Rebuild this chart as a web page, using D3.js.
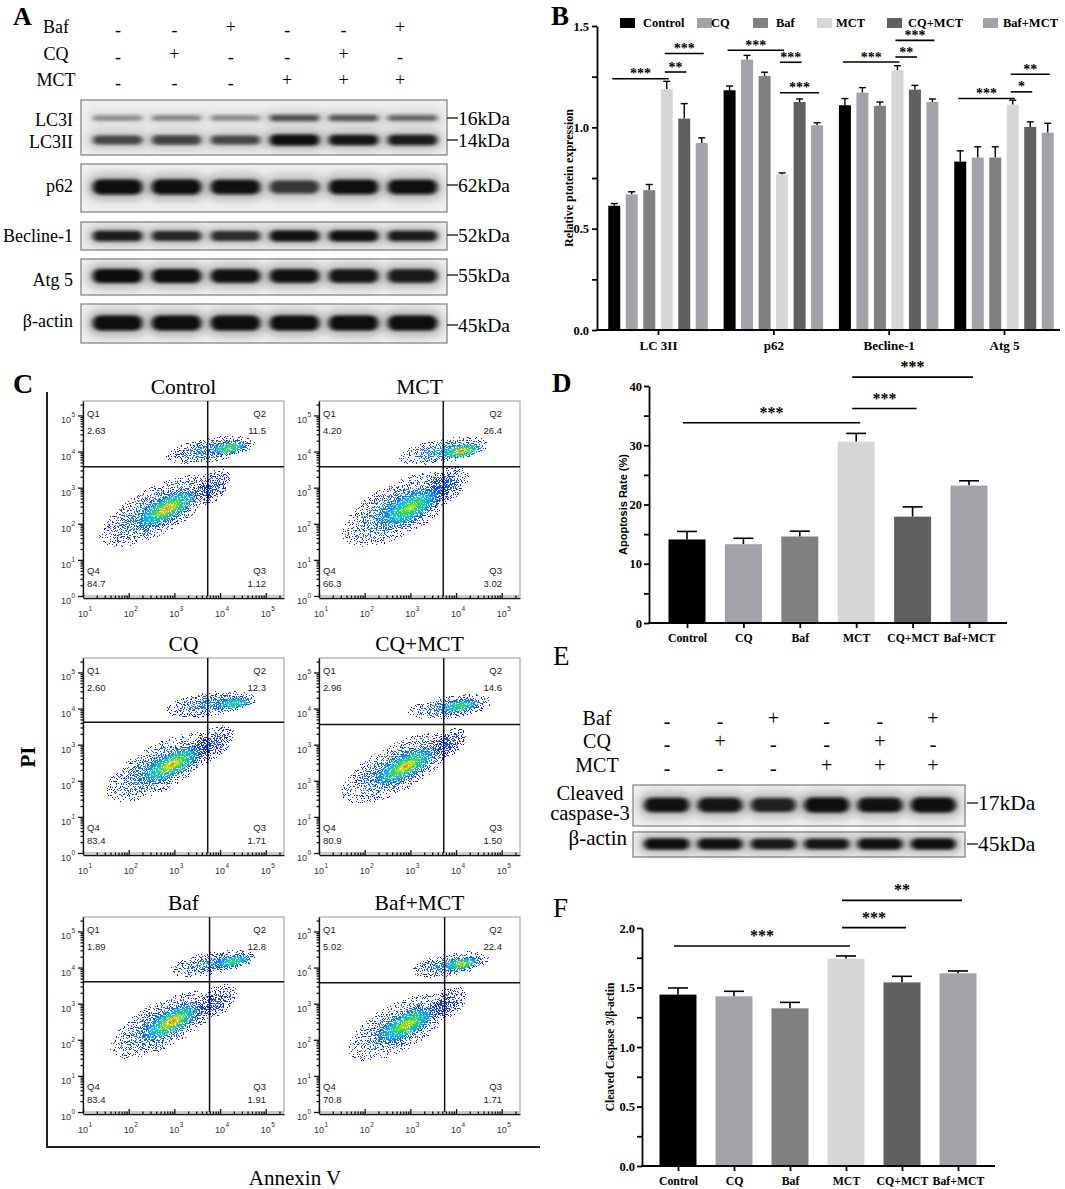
<!DOCTYPE html>
<html>
<head>
<meta charset="utf-8">
<script src="https://cdnjs.cloudflare.com/ajax/libs/d3/7.8.5/d3.min.js"></script>
<style>
  body { margin: 0; background: #fff; }
  svg { display: block; }
</style>
</head>
<body>
<div id="fig"></div>
<script>

// ---------- data ----------

var groups = ["Control", "CQ", "Baf", "MCT", "CQ+MCT", "Baf+MCT"];
var groupColors = ["#000000", "#a3a2a8", "#808080", "#d6d6d6", "#606060", "#a3a2a8"];
var bafRow = ["-", "-", "+", "-", "-", "+"];
var cqRow  = ["-", "+", "-", "-", "+", "-"];
var mctRow = ["-", "-", "-", "+", "+", "+"];

// A: western blot band strength per lane (0..1)
var lc3iBand   = [0.3, 0.33, 0.31, 0.6, 0.54, 0.48];
var lc3iiBand  = [0.64, 0.66, 0.64, 1.0, 0.92, 0.88];
var p62Band    = [1.0, 1.0, 0.95, 0.72, 0.96, 0.96];
var beclinBand = [0.88, 0.82, 0.78, 0.95, 0.95, 0.88];
var atg5Band   = [1.0, 0.97, 0.95, 0.95, 0.93, 0.9];
var actinBandA = [1.0, 0.98, 0.97, 0.97, 0.98, 0.98];
var kdaA = ["16kDa", "14kDa", "62kDa", "52kDa", "55kDa", "45kDa"];

// B: relative protein expression (mean, SEM)
var proteins = ["LC 3II", "p62", "Becline-1", "Atg 5"];
var lc3iiMean  = [0.613, 0.669, 0.690, 1.188, 1.043, 0.923];
var lc3iiSem   = [0.011, 0.013, 0.028, 0.039, 0.074, 0.025];
var p62Mean    = [1.183, 1.334, 1.253, 0.767, 1.125, 1.010];
var p62Sem     = [0.021, 0.021, 0.019, 0.008, 0.015, 0.013];
var beclinMean = [1.109, 1.171, 1.106, 1.281, 1.186, 1.125];
var beclinSem  = [0.033, 0.025, 0.019, 0.023, 0.021, 0.015];
var atg5Mean   = [0.831, 0.851, 0.851, 1.112, 1.002, 0.974];
var atg5Sem    = [0.053, 0.053, 0.053, 0.022, 0.025, 0.046];
// [protein, from group, to group, height, stars]
var sigB = [
  [0, 0, 3, 1.240, "***"], [0, 3, 4, 1.273, "**"], [0, 3, 5, 1.364, "***"],
  [1, 0, 3, 1.380, "***"], [1, 3, 4, 1.321, "***"], [1, 3, 5, 1.171, "***"],
  [2, 0, 3, 1.322, "***"], [2, 3, 4, 1.347, "**"], [2, 3, 5, 1.429, "***"],
  [3, 0, 3, 1.142, "***"], [3, 3, 4, 1.175, "*"], [3, 3, 5, 1.262, "**"]
];

// C: flow cytometry (Annexin V / PI), quadrant percentages
var flowTitles = ["Control", "MCT", "CQ", "CQ+MCT", "Baf", "Baf+MCT"];
var q1 = ["2.63", "4.20", "2.60", "2.96", "1.89", "5.02"];
var q2 = ["11.5", "26.4", "12.3", "14.6", "12.8", "22.4"];
var q3 = ["1.12", "3.02", "1.71", "1.50", "1.91", "1.71"];
var q4 = ["84.7", "66.3", "83.4", "80.9", "83.4", "70.8"];
var gateX = [3.73, 3.72, 3.73, 3.73, 3.77, 3.75];   // log10 Annexin V
var gateY = [3.58, 3.58, 3.62, 3.56, 3.61, 3.58];   // log10 PI
// populations: [log x, log y, half length, half width, tilt deg, peak density]
var mainHalo = [[2.6, 2.35, 1.4, 0.66, -28, 0.3], [2.75, 2.4, 1.4, 0.74, -28, 0.32], [2.7, 2.38, 1.35, 0.64, -28, 0.3],
                [2.7, 2.35, 1.35, 0.66, -28, 0.3], [2.75, 2.42, 1.3, 0.64, -28, 0.3], [2.75, 2.35, 1.25, 0.66, -28, 0.3]];
var mainCore = [[2.85, 2.42, 0.85, 0.38, -28, 1.0], [3.0, 2.45, 0.85, 0.42, -28, 0.82], [2.95, 2.45, 0.85, 0.38, -28, 0.95],
                [2.9, 2.4, 0.88, 0.38, -28, 0.95], [2.95, 2.5, 0.82, 0.38, -28, 1.0], [2.92, 2.42, 0.82, 0.38, -28, 0.9]];
var upHalo   = [[3.8, 4.05, 1.0, 0.34, -10, 0.25], [3.72, 4.02, 1.0, 0.34, -10, 0.35], [3.78, 4.12, 1.0, 0.34, -8, 0.25],
                [3.88, 4.05, 0.95, 0.32, -8, 0.28], [3.82, 4.12, 0.95, 0.32, -10, 0.25], [3.88, 4.08, 0.9, 0.32, -10, 0.3]];
var upCore   = [[4.2, 4.1, 0.5, 0.2, -10, 0.78], [4.12, 4.02, 0.55, 0.22, -10, 1.0], [4.3, 4.15, 0.5, 0.2, -8, 0.65],
                [4.1, 4.07, 0.55, 0.2, -8, 0.72], [4.28, 4.17, 0.5, 0.2, -10, 0.65], [4.13, 4.1, 0.5, 0.2, -10, 0.92]];
var bridge   = [[3.8, 3.0, 0.55, 0.4, -35, 0.1], [3.75, 3.05, 0.6, 0.45, -35, 0.15], [3.8, 3.0, 0.6, 0.4, -35, 0.1],
                [3.8, 3.0, 0.5, 0.35, -35, 0.1], [3.85, 3.0, 0.6, 0.4, -35, 0.1], [3.8, 3.0, 0.5, 0.38, -35, 0.1]];

// D: apoptosis rate (%)
var apopMean = [14.1, 13.3, 14.6, 30.6, 17.95, 23.2];
var apopSem  = [1.35, 1.0, 0.9, 1.4, 1.65, 0.8];
var sigD = [[0, 3, 33.8, "***"], [3, 4, 36.2, "***"], [3, 5, 41.5, "***"]];

// E: cleaved caspase-3 blot
var casBand    = [0.95, 0.92, 0.85, 1.0, 0.95, 0.97];
var actinBandE = [1.0, 0.95, 0.9, 0.92, 0.95, 0.97];
var kdaE = ["17kDa", "45kDa"];

// F: cleaved caspase 3 / beta-actin
var casMean = [1.44, 1.426, 1.325, 1.742, 1.543, 1.619];
var casSem  = [0.056, 0.042, 0.05, 0.023, 0.051, 0.02];
var sigF = [[0, 3, 1.849, "***"], [3, 4, 2.003, "***"], [3, 5, 2.232, "**"]];

// ---------- drawing ----------

var W = 1065, H = 1189;
var serif = "'Liberation Serif','Times New Roman',serif";
var sans = "'Liberation Sans',Arial,sans-serif";

var svg = d3.select("#fig").append("svg")
    .attr("width", W).attr("height", H)
    .attr("viewBox", [0, 0, W, H]);
var defs = svg.append("defs");

// soft edges for blot bands
defs.append("filter").attr("id", "bandBlur")
    .attr("x", "-30%").attr("y", "-100%").attr("width", "160%").attr("height", "300%")
    .append("feGaussianBlur").attr("stdDeviation", "2.6 1.7");
defs.append("filter").attr("id", "haloBlur")
    .attr("x", "-40%").attr("y", "-150%").attr("width", "180%").attr("height", "400%")
    .append("feGaussianBlur").attr("stdDeviation", "5 4");

// grainy dot look for the flow populations
var sp = defs.append("filter").attr("id", "speckle")
    .attr("x", "-5%").attr("y", "-5%").attr("width", "110%").attr("height", "110%")
    .attr("color-interpolation-filters", "sRGB");
sp.append("feTurbulence").attr("type", "fractalNoise").attr("baseFrequency", 0.85)
    .attr("numOctaves", 2).attr("seed", 7).attr("result", "noise");
sp.append("feColorMatrix").attr("in", "noise").attr("type", "matrix")
    .attr("values", "0 0 0 0 0  0 0 0 0 0  0 0 0 0 0  3.4 0 0 0 -1.2").attr("result", "na");
sp.append("feComposite").attr("in", "SourceAlpha").attr("in2", "na").attr("operator", "arithmetic")
    .attr("k1", 0).attr("k2", 1).attr("k3", -1).attr("k4", 0.49).attr("result", "diff");
sp.append("feComponentTransfer").attr("in", "diff").attr("result", "mask")
    .append("feFuncA").attr("type", "discrete").attr("tableValues", "0 1");
sp.append("feColorMatrix").attr("in", "SourceGraphic").attr("type", "matrix")
    .attr("values", "1 0 0 0 0  0 1 0 0 0  0 0 1 0 0  0 0 0 0 1").attr("result", "opaque");
sp.append("feComposite").attr("in", "opaque").attr("in2", "mask").attr("operator", "in");

var jet = d3.scaleLinear()
    .domain([0, 0.18, 0.4, 0.62, 0.82, 1])
    .range(["#1a1aff", "#0a7cff", "#00d8e8", "#28e028", "#f2ee00", "#ff2a00"]);

function txt(g, x, y, s, size, opts) {
  opts = opts || {};
  return g.append("text").attr("x", x).attr("y", y)
      .attr("font-family", opts.family || serif)
      .attr("font-size", size)
      .attr("font-weight", opts.weight || "normal")
      .attr("text-anchor", opts.anchor || "start")
      .attr("fill", opts.fill || "#000")
      .text(s);
}

// treatment +/- table above a blot
function treatments(g, xs, labelX, baselines, size) {
  var rows = [["Baf", bafRow], ["CQ", cqRow], ["MCT", mctRow]];
  rows.forEach(function(r, k) {
    txt(g, labelX, baselines[k], r[0], size, {anchor: "middle"});
    groups.forEach(function(gr, i) {
      txt(g, xs(gr), baselines[k] + (r[1][i] === "-" ? 2.5 : 0), r[1][i], size, {anchor: "middle"});
    });
  });
}

// one blot strip: bands = [{cy, h, vals}]
function blot(g, lanes, y0, y1, bands) {
  var r = lanes.range();
  g.append("rect").attr("x", r[0] - 7).attr("y", y0)
      .attr("width", r[1] - r[0] + 12).attr("height", y1 - y0)
      .attr("fill", "#efefef").attr("stroke", "#7d7d7d").attr("stroke-width", 1.2);
  bands.forEach(function(b) {
    var bw = lanes.bandwidth() * 0.84;
    g.selectAll(null).data(b.vals).join("rect")
        .attr("x", function(v, i) { return lanes(groups[i]) + lanes.bandwidth() / 2 - bw / 2 - 6; })
        .attr("y", function(v) { return b.cy - b.h * 0.9; })
        .attr("width", bw + 12).attr("height", b.h * 1.8)
        .attr("rx", b.h * 0.9)
        .attr("fill", "#333").attr("opacity", function(v) { return 0.3 * v; })
        .attr("filter", "url(#haloBlur)");
    g.selectAll(null).data(b.vals).join("rect")
        .attr("x", function(v, i) { return lanes(groups[i]) + lanes.bandwidth() / 2 - bw / 2; })
        .attr("y", function(v) { return b.cy - b.h * (0.55 + 0.45 * v) / 2; })
        .attr("width", bw)
        .attr("height", function(v) { return b.h * (0.55 + 0.45 * v); })
        .attr("rx", b.h / 2)
        .attr("fill", "#080808").attr("opacity", function(v) { return Math.min(1, 0.12 + 0.9 * v); })
        .attr("filter", "url(#bandBlur)");
  });
}

function kdaMark(g, x, yc, s, size) {
  g.append("line").attr("x1", x).attr("x2", x + 11).attr("y1", yc).attr("y2", yc)
      .attr("stroke", "#000").attr("stroke-width", 1.2);
  txt(g, x + 11, yc + size * 0.34, s, size);
}

function bracket(g, x1, x2, yv, label, size, lift) {
  g.append("line").attr("x1", x1).attr("x2", x2).attr("y1", yv).attr("y2", yv)
      .attr("stroke", "#000").attr("stroke-width", 1.6);
  txt(g, (x1 + x2) / 2, yv - lift, label, size, {anchor: "middle", weight: "bold"});
}

// ---------- panel A ----------
var gA = svg.append("g");
txt(gA, 13, 25, "A", 26, {weight: "bold"});
var treatA = d3.scalePoint().domain(groups).range([118, 400]);
treatments(gA, treatA, 56, [33, 60, 86], 18);
var lanesA = d3.scaleBand().domain(groups).range([88, 442]);
blot(gA, lanesA, 100, 155, [{cy: 118, h: 8, vals: lc3iBand}, {cy: 140, h: 11, vals: lc3iiBand}]);
blot(gA, lanesA, 164, 212, [{cy: 187, h: 15, vals: p62Band}]);
blot(gA, lanesA, 222, 250, [{cy: 236, h: 11, vals: beclinBand}]);
blot(gA, lanesA, 259, 295, [{cy: 276, h: 14, vals: atg5Band}]);
blot(gA, lanesA, 304, 343, [{cy: 323, h: 15, vals: actinBandA}]);
[["LC3I", 126], ["LC3II", 148], ["p62", 192], ["Becline-1", 242], ["Atg 5", 286], ["β-actin", 327]]
  .forEach(function(d) { txt(gA, 73, d[1], d[0], 18, {anchor: "end"}); });
[118, 140, 185, 235, 275, 325].forEach(function(yc, i) { kdaMark(gA, 447, yc, kdaA[i], 19.5); });

// ---------- panel B ----------
var gB = svg.append("g");
txt(gB, 551, 25, "B", 27, {weight: "bold"});
var yB = d3.scaleLinear().domain([0, 1.5]).range([330, 26]);
var xB = d3.scalePoint().domain(proteins).range([658, 1004]);
var offB = d3.scalePoint().domain(groups).range([-43.75, 43.75]);
var barWB = 12;
var meansB = [lc3iiMean, p62Mean, beclinMean, atg5Mean];
var semsB = [lc3iiSem, p62Sem, beclinSem, atg5Sem];

proteins.forEach(function(p, k) {
  var cells = groups.map(function(gr, i) { return {g: gr, i: i, m: meansB[k][i], s: semsB[k][i]}; });
  var gg = gB.append("g");
  gg.selectAll("line.err").data(cells).join("line").attr("class", "err")
      .attr("x1", function(d) { return xB(p) + offB(d.g); })
      .attr("x2", function(d) { return xB(p) + offB(d.g); })
      .attr("y1", function(d) { return yB(d.m); })
      .attr("y2", function(d) { return yB(d.m + d.s); })
      .attr("stroke", "#000").attr("stroke-width", 1.4);
  gg.selectAll("line.cap").data(cells).join("line").attr("class", "cap")
      .attr("x1", function(d) { return xB(p) + offB(d.g) - 3.5; })
      .attr("x2", function(d) { return xB(p) + offB(d.g) + 3.5; })
      .attr("y1", function(d) { return yB(d.m + d.s); })
      .attr("y2", function(d) { return yB(d.m + d.s); })
      .attr("stroke", "#000").attr("stroke-width", 1.4);
  gg.selectAll("rect").data(cells).join("rect")
      .attr("x", function(d) { return xB(p) + offB(d.g) - barWB / 2; })
      .attr("y", function(d) { return yB(d.m); })
      .attr("width", barWB)
      .attr("height", function(d) { return yB(0) - yB(d.m); })
      .attr("fill", function(d) { return groupColors[d.i]; });
});
sigB.forEach(function(s) {
  var p = proteins[s[0]];
  bracket(gB, xB(p) + offB(groups[s[1]]) - 2, xB(p) + offB(groups[s[2]]) + 2, yB(s[3]), s[4], 14, 0.5);
});

gB.append("g").attr("transform", "translate(597,0)")
    .call(d3.axisLeft(yB).tickValues([0, 0.5, 1, 1.5]).tickFormat(d3.format(".1f")).tickSize(5).tickSizeOuter(0));
gB.append("g").attr("transform", "translate(597,0)")
    .call(d3.axisLeft(yB).tickValues([0.25, 0.75, 1.25]).tickFormat("").tickSize(5).tickSizeOuter(0))
    .select(".domain").remove();
var axBx = gB.append("g").attr("transform", "translate(0,330)")
    .call(d3.axisBottom(xB).tickSize(5).tickPadding(6));
axBx.select(".domain").remove();
gB.append("line").attr("x1", 596).attr("x2", 1060).attr("y1", 330).attr("y2", 330)
    .attr("stroke", "#000").attr("stroke-width", 2);
gB.selectAll(".tick text").attr("font-family", serif).attr("font-weight", "bold").attr("font-size", 12.5).attr("fill", "#000");
axBx.selectAll(".tick text").attr("font-size", 13);
gB.selectAll(".domain, .tick line").attr("stroke", "#000").attr("stroke-width", 1.8);
txt(gB, 0, 0, "Relative ptotein expression", 12, {anchor: "middle", weight: "bold"})
    .attr("transform", "translate(573,178) rotate(-90)");

var legX = [620, 697, 753, 817, 887, 983], legTX = [643, 711, 776, 836, 908, 1003];
groups.forEach(function(gr, i) {
  gB.append("rect").attr("x", legX[i]).attr("y", 18).attr("width", 15).attr("height", 10).attr("fill", groupColors[i]);
  txt(gB, legTX[i], 27, gr, 12.5, {weight: "bold"});
});

// ---------- simple bar panels (D, F) ----------
function barPanel(cfg) {
  var g = svg.append("g");
  var y = d3.scaleLinear().domain([0, cfg.yMax]).range([cfg.yBot, cfg.yTop]);
  var x = d3.scalePoint().domain(groups).range(cfg.centers);
  var cells = groups.map(function(gr, i) { return {g: gr, i: i, m: cfg.means[i], s: cfg.sems[i]}; });
  g.selectAll("line.err").data(cells).join("line").attr("class", "err")
      .attr("x1", function(d) { return x(d.g); }).attr("x2", function(d) { return x(d.g); })
      .attr("y1", function(d) { return y(d.m); }).attr("y2", function(d) { return y(d.m + d.s); })
      .attr("stroke", "#000").attr("stroke-width", 1.6);
  g.selectAll("line.cap").data(cells).join("line").attr("class", "cap")
      .attr("x1", function(d) { return x(d.g) - 10; }).attr("x2", function(d) { return x(d.g) + 10; })
      .attr("y1", function(d) { return y(d.m + d.s); }).attr("y2", function(d) { return y(d.m + d.s); })
      .attr("stroke", "#000").attr("stroke-width", 1.6);
  g.selectAll("rect").data(cells).join("rect")
      .attr("x", function(d) { return x(d.g) - cfg.barW / 2; })
      .attr("y", function(d) { return y(d.m); })
      .attr("width", cfg.barW)
      .attr("height", function(d) { return y(0) - y(d.m); })
      .attr("fill", function(d) { return groupColors[d.i]; });
  cfg.sig.forEach(function(s) {
    bracket(g, x(groups[s[0]]) - 4, x(groups[s[1]]) + 4, y(s[2]), s[3], 16, 5);
  });
  g.append("g").attr("transform", "translate(" + cfg.x0 + ",0)")
      .call(d3.axisLeft(y).tickValues(cfg.majors).tickFormat(d3.format(cfg.fmt)).tickSize(5).tickPadding(2).tickSizeOuter(0));
  g.append("g").attr("transform", "translate(" + cfg.x0 + ",0)")
      .call(d3.axisLeft(y).tickValues(cfg.minors).tickFormat("").tickSize(5).tickSizeOuter(0))
      .select(".domain").remove();
  var ax = g.append("g").attr("transform", "translate(0," + cfg.yBot + ")")
      .call(d3.axisBottom(x).tickSize(5).tickPadding(6));
  ax.select(".domain").remove();
  g.append("line").attr("x1", cfg.x0 - 1).attr("x2", cfg.x1).attr("y1", cfg.yBot).attr("y2", cfg.yBot)
      .attr("stroke", "#000").attr("stroke-width", 2);
  g.selectAll(".tick text").attr("font-family", serif).attr("font-weight", "bold").attr("font-size", 12.5).attr("fill", "#000");
  ax.selectAll(".tick text").attr("font-size", 11.8);
  g.selectAll(".domain, .tick line").attr("stroke", "#000").attr("stroke-width", 1.8);
  txt(g, 0, 0, cfg.yLabel, cfg.labelSize, {anchor: "middle", weight: "bold", family: cfg.labelFamily})
      .attr("transform", "translate(" + cfg.labelX + "," + (cfg.yTop + cfg.yBot) / 2 + ") rotate(-90)");
  return g;
}

var gD = barPanel({
  x0: 649, x1: 1007, yTop: 386, yBot: 623, yMax: 40, centers: [687, 969], barW: 37,
  means: apopMean, sems: apopSem, sig: sigD,
  majors: [0, 10, 20, 30, 40], minors: [5, 15, 25, 35], fmt: "d",
  yLabel: "Apoptosis Rate (%)", labelX: 627, labelSize: 11, labelFamily: sans
});
txt(gD, 552, 392, "D", 27, {weight: "bold"});

var gF = barPanel({
  x0: 642, x1: 995, yTop: 928, yBot: 1166, yMax: 2, centers: [678, 958], barW: 37,
  means: casMean, sems: casSem, sig: sigF,
  majors: [0, 0.5, 1, 1.5, 2], minors: [0.25, 0.75, 1.25, 1.75], fmt: ".1f",
  yLabel: "Cleaved Caspase 3/β-actin", labelX: 614, labelSize: 11.5, labelFamily: serif
});
txt(gF, 553, 917, "F", 27);

// ---------- panel E ----------
var gE = svg.append("g");
txt(gE, 553, 665, "E", 27);
var treatE = d3.scalePoint().domain(groups).range([667, 933]);
treatments(gE, treatE, 597, [725, 748, 772], 20);
var lanesE = d3.scaleBand().domain(groups).range([640, 960]);
blot(gE, lanesE, 785, 826, [{cy: 805, h: 15, vals: casBand}]);
blot(gE, lanesE, 832, 857, [{cy: 844, h: 11, vals: actinBandE}]);
txt(gE, 590, 800, "Cleaved", 20.5, {anchor: "middle"});
txt(gE, 590, 820, "caspase-3", 20.5, {anchor: "middle"});
txt(gE, 627, 845, "β-actin", 21, {anchor: "end"});
[803, 844].forEach(function(yc, i) { kdaMark(gE, 967, yc, kdaE[i], 21.5); });

// ---------- panel C ----------
var gC = svg.append("g");
txt(gC, 13, 393, "C", 28, {weight: "bold"});
gC.append("path").attr("d", "M47,392V1147H540").attr("fill", "none").attr("stroke", "#222").attr("stroke-width", 2);
txt(gC, 0, 0, "PI", 21, {anchor: "middle", weight: "bold"}).attr("transform", "translate(35,757) rotate(-90)");
txt(gC, 295, 1185, "Annexin V", 21, {anchor: "middle"});

var flowCols = [83, 319], flowRows = [401, 658, 917], fw = 201, fh = 195;
var xMinors = [], yMinors = [];
d3.range(0, 6).forEach(function(k) {
  d3.range(2, 10).forEach(function(m) {
    var v = k + Math.log10(m);
    if (v <= 5.4) yMinors.push(v);
    if (k >= 1 && v <= 5.4) xMinors.push(v);
  });
});

function population(g, x, y, pop, id, halo) {
  var grad = defs.append("radialGradient").attr("id", id);
  [0, 0.15, 0.3, 0.45, 0.6, 0.75, 0.9, 1].forEach(function(t) {
    var dens = pop[5] * Math.pow(1 - t, halo ? 1.2 : 1.05);
    var a = (halo ? 0.6 : 0.97) * (1 - Math.pow(t, 1.6));
    grad.append("stop").attr("offset", t).attr("stop-color", jet(dens)).attr("stop-opacity", a);
  });
  var pxPerX = x(2) - x(1), pxPerY = y(0) - y(1);
  g.append("ellipse")
      .attr("cx", 0).attr("cy", 0)
      .attr("rx", pop[2] * pxPerX).attr("ry", pop[3] * pxPerY)
      .attr("transform", "translate(" + x(pop[0]) + "," + y(pop[1]) + ") rotate(" + pop[4] + ")")
      .attr("fill", "url(#" + id + ")");
}

flowTitles.forEach(function(title, i) {
  var left = flowCols[i % 2], top = flowRows[Math.floor(i / 2)];
  var x = d3.scaleLinear().domain([1, 5.4]).range([left, left + fw]);
  var y = d3.scaleLinear().domain([0, 5.4]).range([top + fh, top]);
  var g = gC.append("g");

  txt(g, left + fw / 2, top - 7, title, 21.5, {anchor: "middle"});
  g.append("rect").attr("x", left).attr("y", top).attr("width", fw).attr("height", fh)
      .attr("fill", "#fff").attr("stroke", "#a8a8a8").attr("stroke-width", 1.2);

  defs.append("clipPath").attr("id", "clip" + i).append("rect")
      .attr("x", left).attr("y", top).attr("width", fw).attr("height", fh);
  var dots = g.append("g").attr("clip-path", "url(#clip" + i + ")")
      .append("g").attr("filter", "url(#speckle)");
  population(dots, x, y, bridge[i], "br" + i, true);
  population(dots, x, y, mainHalo[i], "mh" + i, true);
  population(dots, x, y, upHalo[i], "uh" + i, true);
  population(dots, x, y, mainCore[i], "mc" + i, false);
  population(dots, x, y, upCore[i], "uc" + i, false);

  // quadrant gates
  g.append("line").attr("x1", x(gateX[i])).attr("x2", x(gateX[i])).attr("y1", top).attr("y2", top + fh)
      .attr("stroke", "#111").attr("stroke-width", 1.5);
  g.append("line").attr("x1", left).attr("x2", left + fw).attr("y1", y(gateY[i])).attr("y2", y(gateY[i]))
      .attr("stroke", "#111").attr("stroke-width", 1.5);

  // axes
  var ay = g.append("g").attr("transform", "translate(" + left + ",0)");
  ay.call(d3.axisLeft(y).tickValues(d3.range(0, 6)).tickFormat("").tickSize(5).tickSizeOuter(0));
  ay.append("g").call(d3.axisLeft(y).tickValues(yMinors).tickFormat("").tickSize(2.5).tickSizeOuter(0))
      .select(".domain").remove();
  var ax = g.append("g").attr("transform", "translate(0," + (top + fh + 2) + ")");
  ax.call(d3.axisBottom(x).tickValues(d3.range(1, 6)).tickFormat("").tickSize(5).tickSizeOuter(0));
  ax.append("g").call(d3.axisBottom(x).tickValues(xMinors).tickFormat("").tickSize(2.5).tickSizeOuter(0))
      .select(".domain").remove();
  ax.selectAll(".tick line").attr("y2", function() { return -(+d3.select(this).attr("y2")); });
  g.selectAll(".domain, .tick line").attr("stroke", "#111").attr("stroke-width", 1.3);

  d3.range(0, 6).forEach(function(k) {
    txt(g, left - 12, y(k) + 8, "10", 9, {anchor: "end", family: sans, fill: "#333"});
    txt(g, left - 11.5, y(k) + 2, String(k), 6.5, {family: sans, fill: "#333"});
  });
  d3.range(1, 6).forEach(function(k) {
    txt(g, x(k) - 5, top + fh + 21, "10", 9, {family: sans, fill: "#333"});
    txt(g, x(k) + 5.5, top + fh + 15, String(k), 6.5, {family: sans, fill: "#333"});
  });

  var qs = {family: sans, fill: "#222"};
  var qe = {family: sans, fill: "#222", anchor: "end"};
  txt(g, left + 4, top + 16, "Q1", 9.5, qs);
  txt(g, left + 4, top + 33, q1[i], 9.5, qs);
  txt(g, left + fw - 18, top + 16, "Q2", 9.5, qe);
  txt(g, left + fw - 18, top + 33, q2[i], 9.5, qe);
  txt(g, left + 4, top + fh - 22, "Q4", 9.5, qs);
  txt(g, left + 4, top + fh - 9, q4[i], 9.5, qs);
  txt(g, left + fw - 18, top + fh - 22, "Q3", 9.5, qe);
  txt(g, left + fw - 18, top + fh - 9, q3[i], 9.5, qe);
});

</script>
</body>
</html>
